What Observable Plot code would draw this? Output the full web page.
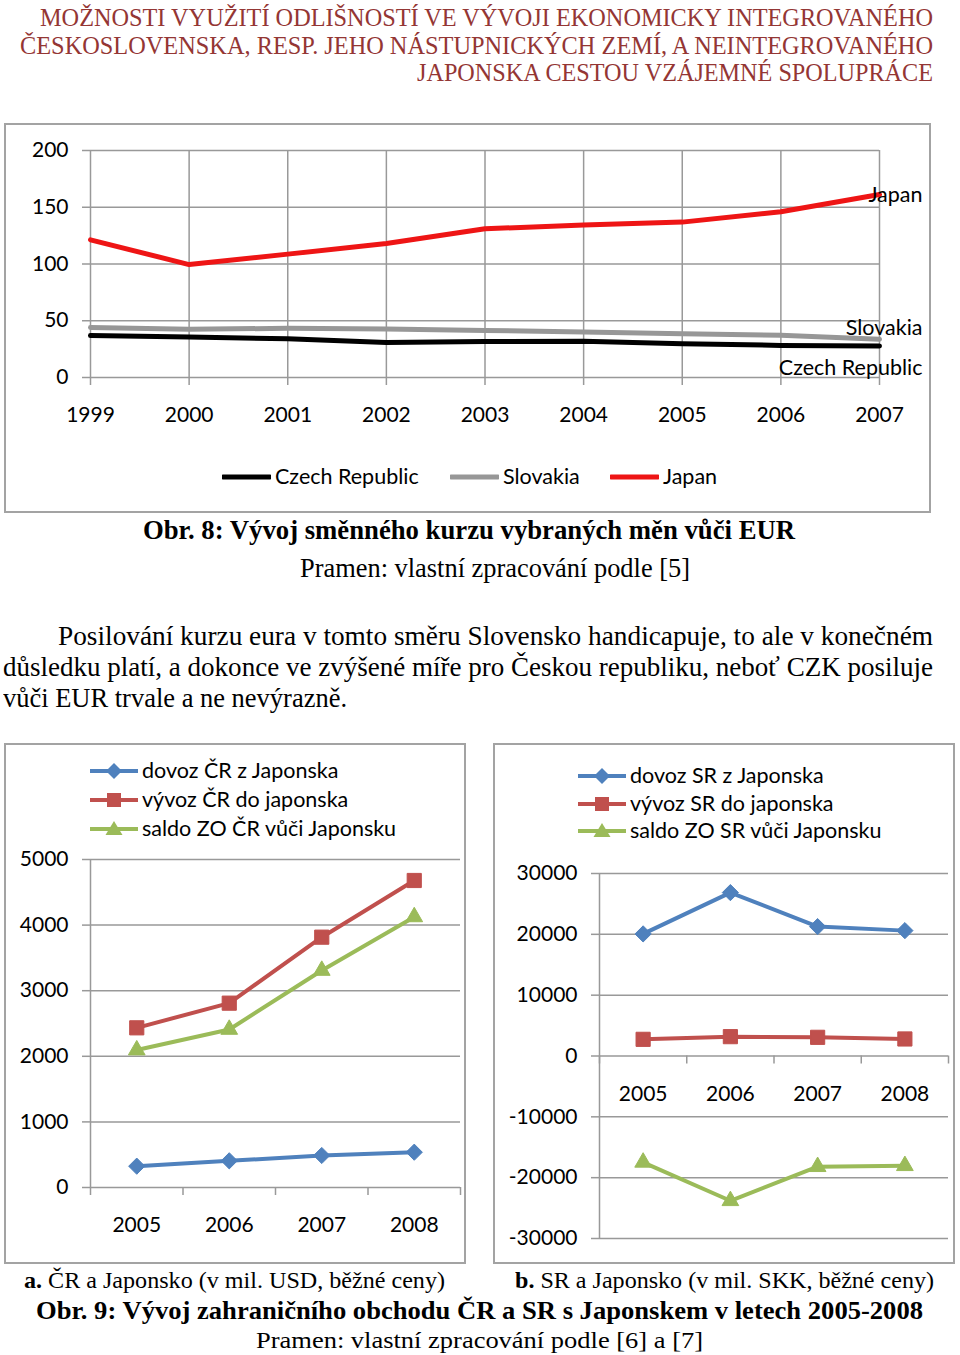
<!DOCTYPE html>
<html><head><meta charset="utf-8">
<script src="https://cdn.jsdelivr.net/npm/d3@7"></script>
<script src="https://cdn.jsdelivr.net/npm/@observablehq/plot@0.6"></script>
<style>
body{margin:0;background:#fff;}
#page{position:relative;width:960px;height:1355px;overflow:hidden;background:#fff;}
.t{position:absolute;white-space:nowrap;font-family:"Liberation Serif","Times New Roman",Tinos,Times,serif;line-height:1;transform-origin:0 50%;color:#000;}
.box{position:absolute;border:2px solid #a3a3a3;box-sizing:border-box;}
.svgwrap{position:absolute;}
.leg{position:absolute;font-family:Lato,sans-serif;font-size:21.5px;white-space:nowrap;display:flex;align-items:center;line-height:1;}
.leg svg{display:block;}
</style></head><body><div id="page"></div>
<script>
// ---------- data ----------
const years1 = [1999, 2000, 2001, 2002, 2003, 2004, 2005, 2006, 2007];
const czech    = [36.9, 35.6, 34.1, 30.8, 31.8, 31.9, 29.8, 28.3, 27.8];
const slovakia = [44.1, 42.6, 43.3, 42.7, 41.5, 40.0, 38.6, 37.2, 33.8];
const japan    = [121.3, 99.5, 108.7, 118.1, 131.0, 134.4, 136.9, 146.0, 161.3];
const yTicks1 = [0, 50, 100, 150, 200];
const seriesNames1 = ["Czech Republic", "Slovakia", "Japan"];

const years2 = [2005, 2006, 2007, 2008];
const crImport  = [325, 407, 488, 538];
const crExport  = [2434, 2810, 3816, 4680];
const crBalance = [2095, 2409, 3308, 4125];
const yTicksCR = [0, 1000, 2000, 3000, 4000, 5000];

const srImport  = [20070, 26860, 21270, 20610];
const srExport  = [2740, 3180, 3070, 2800];
const srBalance = [-17480, -23800, -18200, -18040];
const yTicksSR = [-30000, -20000, -10000, 0, 10000, 20000, 30000];

const crLabels = ["dovoz ČR z Japonska", "vývoz ČR do japonska", "saldo ZO ČR vůči Japonsku"];
const srLabels = ["dovoz SR z Japonska", "vývoz SR do japonska", "saldo ZO SR vůči Japonsku"];

// ---------- helpers ----------
const page = document.getElementById("page");
const FONT = "Lato, sans-serif";
const GRID = "#999";
const BLUE = "#4f81bd", RED = "#c0504d", GREEN = "#9bbb59";
const C_CZ = "#000", C_SK = "#979797", C_JP = "#ee1515";

function box(x, y, w, h) {
  const d = document.createElement("div");
  d.className = "box";
  Object.assign(d.style, {left: x + "px", top: y + "px", width: w + "px", height: h + "px"});
  page.appendChild(d);
}
const fitters = [];
function text(html, x1, x2, yc, size, opts = {}) {
  const d = document.createElement("div");
  d.className = "t";
  d.innerHTML = html;
  d.style.left = x1 + "px";
  d.style.top = (yc - size / 2) + "px";
  d.style.fontSize = size + "px";
  if (opts.bold) d.style.fontWeight = "bold";
  if (opts.color) d.style.color = opts.color;
  page.appendChild(d);
  const fit = () => {
    d.style.transform = "none";
    const w = d.getBoundingClientRect().width;
    d.style.transform = `scaleX(${(x2 - x1) / w})`;
  };
  fitters.push(fit); fit();
}
function place(svg, x, y) {
  const w = document.createElement("div");
  w.className = "svgwrap";
  w.style.left = x + "px"; w.style.top = y + "px";
  w.appendChild(svg);
  page.appendChild(w);
}
const markerPath = {
  diamond: "M0,-8L8,0L0,8L-8,0Z",
  square: "M-7,-7h14v14h-14z",
  triangle: "M0,-8L8.5,6L-8.5,6Z"
};

// ---------- header ----------
const HC = "#943634";
text("MOŽNOSTI VYUŽITÍ ODLIŠNOSTÍ VE VÝVOJI EKONOMICKY INTEGROVANÉHO", 40, 933, 17, 25, {color: HC});
text("ČESKOSLOVENSKA, RESP. JEHO NÁSTUPNICKÝCH ZEMÍ, A NEINTEGROVANÉHO", 20, 933, 45, 25, {color: HC});
text("JAPONSKA CESTOU VZÁJEMNÉ SPOLUPRÁCE", 417, 933, 72, 25, {color: HC});

// ---------- chart 1 ----------
box(4, 123, 927, 390);
const lastYear = years1[years1.length - 1];
const p1 = Plot.plot({
  width: 923, height: 320,
  marginLeft: 84, marginRight: 50, marginTop: 25, marginBottom: 68,
  style: {fontFamily: FONT, fontSize: "21px", background: "transparent", overflow: "visible"},
  x: {domain: [years1[0], lastYear]},
  y: {domain: [0, 200]},
  marks: [
    Plot.gridY({ticks: yTicks1, stroke: GRID, strokeOpacity: 1, strokeWidth: 1.5}),
    Plot.gridX({ticks: years1, stroke: GRID, strokeOpacity: 1, strokeWidth: 1.5}),
    Plot.axisY({ticks: yTicks1, tickSize: 8, tickPadding: 14, stroke: GRID, strokeWidth: 1.5, fontSize: 21, label: null}),
    Plot.axisX({ticks: years1, tickSize: 8, tickPadding: 22, stroke: GRID, strokeWidth: 1.5, fontSize: 21, tickFormat: d => String(d), label: null}),
    Plot.lineY(slovakia, {x: years1, stroke: C_SK, strokeWidth: 5}),
    Plot.lineY(czech, {x: years1, stroke: C_CZ, strokeWidth: 5}),
    Plot.lineY(japan, {x: years1, stroke: C_JP, strokeWidth: 5}),
    Plot.text([japan[japan.length - 1]], {x: [lastYear], y: d => d, text: [seriesNames1[2]], textAnchor: "end", dx: 43, dy: 1, fontSize: 21.5}),
    Plot.text([slovakia[slovakia.length - 1]], {x: [lastYear], y: d => d, text: [seriesNames1[1]], textAnchor: "end", dx: 43, dy: -11, fontSize: 21.5}),
    Plot.text([czech[czech.length - 1]], {x: [lastYear], y: d => d, text: [seriesNames1[0]], textAnchor: "end", dx: 43, dy: 22, fontSize: 21.5})
  ]
});
place(p1, 6, 125);

// legend chart 1
[[seriesNames1[0], C_CZ, 222], [seriesNames1[1], C_SK, 450], [seriesNames1[2], C_JP, 610]].forEach(([n, c, x]) => {
  const it = document.createElement("div");
  it.className = "leg";
  Object.assign(it.style, {left: x + "px", top: "465px", height: "24px"});
  it.innerHTML = `<svg width="49" height="10"><line x1="1" x2="48" y1="5" y2="5" stroke="${c}" stroke-width="5" stroke-linecap="round"/></svg><span style="margin-left:4px">${n}</span>`;
  page.appendChild(it);
});

// ---------- captions fig 8 + paragraph ----------
text("Obr. 8: Vývoj směnného kurzu vybraných měn vůči EUR", 143, 795, 530, 27, {bold: true});
text("Pramen: vlastní zpracování podle [5]", 300, 690, 568, 27);
text("Posilování kurzu eura v tomto směru Slovensko handicapuje, to ale v konečném", 58, 933, 636, 27);
text("důsledku platí, a dokonce ve zvýšené míře pro Českou republiku, neboť CZK posiluje", 3, 933, 667, 27);
text("vůči EUR trvale a ne nevýrazně.", 3, 347, 698, 27);

// ---------- trade charts ----------
function tradeChart({left, top, w, h, mLeft, mRight, mTop, mBottom, yDomain, yTicks, imp, exp, bal}) {
  const bounds = years2.map(y => y - 0.5).concat([years2[years2.length - 1] + 0.5]);
  const xDom = [bounds[0], bounds[bounds.length - 1]];
  const series = [[imp, BLUE, "diamond2", 7.3], [exp, RED, "square", 8.0], [bal, GREEN, "triangle", 6.2]];
  const marks = [
    Plot.gridY({ticks: yTicks, stroke: GRID, strokeOpacity: 1, strokeWidth: 1.5}),
    Plot.ruleX([xDom[0]], {y1: yDomain[0], y2: yDomain[1], stroke: GRID, strokeWidth: 1.5}),
    Plot.axisY({ticks: yTicks, tickSize: 8, tickPadding: 14, stroke: GRID, strokeWidth: 1.5, fontSize: 21, tickFormat: d => String(d), label: null}),
    Plot.ruleX(bounds, {y1: 0, y2: 0, insetBottom: -8, stroke: GRID, strokeWidth: 1.5}),
    Plot.text(years2, {x: d => d, y: 0, text: d => String(d), dy: 38, fontSize: 21})
  ];
  series.forEach(([vals, c, sym, r]) => {
    marks.push(Plot.lineY(vals, {x: years2, stroke: c, strokeWidth: 4}));
    marks.push(Plot.dot(vals, {x: years2, y: d => d, symbol: sym, r, fill: c, stroke: c, strokeWidth: 1}));
  });
  const p = Plot.plot({
    width: w, height: h,
    marginLeft: mLeft, marginRight: mRight, marginTop: mTop, marginBottom: mBottom,
    style: {fontFamily: FONT, fontSize: "21px", background: "transparent", overflow: "visible"},
    x: {domain: xDom, axis: null},
    y: {domain: yDomain},
    marks
  });
  place(p, left, top);
}
function tradeLegend(x, ys, labels) {
  const syms = [["diamond", BLUE], ["square", RED], ["triangle", GREEN]];
  ys.forEach((yc, i) => {
    const [s, c] = syms[i];
    const sv = document.createElement("div");
    sv.className = "leg";
    Object.assign(sv.style, {left: x + "px", top: (yc - 11) + "px", height: "22px"});
    sv.innerHTML = `<svg width="48" height="20"><line x1="0" x2="48" y1="10" y2="10" stroke="${c}" stroke-width="4"/><path transform="translate(24,10)" d="${markerPath[s]}" fill="${c}"/></svg><span style="margin-left:4px">${labels[i]}</span>`;
    page.appendChild(sv);
  });
}

box(4, 743, 462, 521);
tradeChart({left: 6, top: 745, w: 458, h: 500, mLeft: 84, mRight: 4, mTop: 114, mBottom: 58,
  yDomain: [0, 5000], yTicks: yTicksCR, imp: crImport, exp: crExport, bal: crBalance});
tradeLegend(90, [771, 800, 829], crLabels);

box(493, 743, 462, 521);
tradeChart({left: 495, top: 745, w: 458, h: 505, mLeft: 104, mRight: 5, mTop: 128, mBottom: 12,
  yDomain: [-30000, 30000], yTicks: yTicksSR, imp: srImport, exp: srExport, bal: srBalance});
tradeLegend(578, [776, 804, 831], srLabels);

// ---------- bottom captions ----------
text("<b>a.</b> ČR a Japonsko (v mil. USD, běžné ceny)", 24, 445, 1280, 24);
text("<b>b.</b> SR a Japonsko (v mil. SKK, běžné ceny)", 515, 934, 1280, 24);
text("Obr. 9: Vývoj zahraničního obchodu ČR a SR s Japonskem v letech 2005-2008", 36, 923, 1310, 25, {bold: true});
text("Pramen: vlastní zpracování podle [6] a [7]", 256, 703, 1340, 24);

if (document.fonts && document.fonts.ready) document.fonts.ready.then(() => fitters.forEach(f => f()));
</script>
</body></html>
